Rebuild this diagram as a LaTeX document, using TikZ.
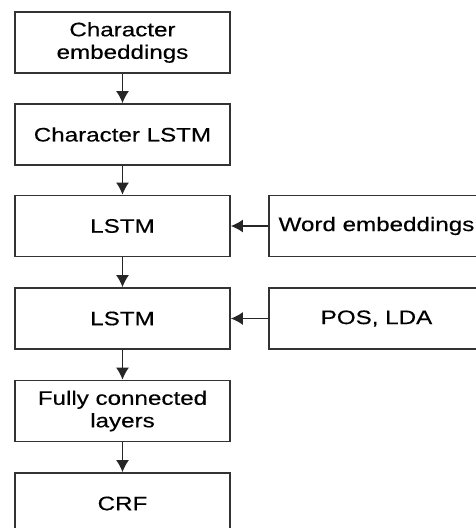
\documentclass[tikz,border=0pt]{standalone}
\usepackage{fontspec}
\setmainfont[FakeStretch=1.24,FakeBold=0.4]{Liberation Sans}
\usetikzlibrary{arrows.meta}
\tikzset{>={Latex[length=12pt,width=13pt]}}
\tikzstyle{block}=[draw=black!80, line width=1.6pt, minimum width=215pt, minimum height=61pt, inner sep=0pt, align=center, font=\fontsize{19.5}{22.5}\selectfont]
\tikzstyle{flow}=[->, line width=1.6pt, draw=black!85]

\begin{document}
\begin{tikzpicture}[x=1pt,y=-1pt]
	\def\cx{122.5} % centre of the main column
	\def\sx{376.5} % centre of the side inputs
	\useasboundingbox (0,0) rectangle (476,528);
	\clip (0,0) rectangle (476,528);

	% Main column
	\node[block] (charemb) at (\cx,42.5) {Character\\embeddings};
	\node[block] (charlstm) at (\cx,134.5) {Character LSTM};
	\node[block] (lstma) at (\cx,226) {LSTM};
	\node[block] (lstmb) at (\cx,318.5) {LSTM};
	\node[block] (fc) at (\cx,411) {Fully connected\\layers};
	\node[block] (crf) at (\cx,503.5) {CRF};

	% Side inputs
	\node[block] (wordemb) at (\sx,226) {Word embeddings};
	\node[block] (posl) at (\sx,318.5) {POS, LDA};

	% Arrows
	\draw[flow] (charemb) -- (charlstm);
	\draw[flow] (charlstm) -- (lstma);
	\draw[flow] (lstma) -- (lstmb);
	\draw[flow] (lstmb) -- (fc);
	\draw[flow] (fc) -- (crf);
	\draw[flow] (wordemb) -- (lstma);
	\draw[flow] (posl) -- (lstmb);
\end{tikzpicture}
\end{document}
